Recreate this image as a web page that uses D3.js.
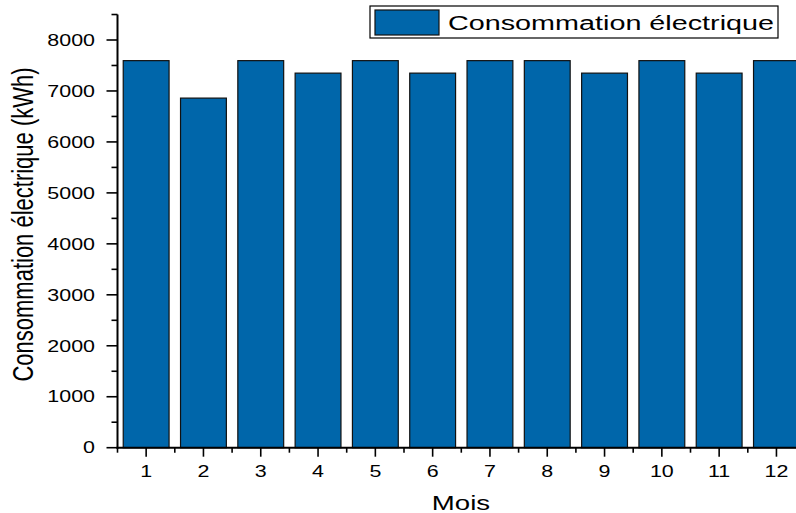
<!DOCTYPE html>
<html>
<head>
<meta charset="utf-8">
<script src="https://cdn.jsdelivr.net/npm/d3@7"></script>
<style>
  html, body { margin: 0; padding: 0; background: #fff; }
  svg { display: block; }
  text { font-family: "Liberation Sans", Arial, sans-serif; fill: #000; }
</style>
</head>
<body>
<svg id="chart" width="796" height="513"></svg>
<script>
// ---- data ----
const months = [1, 2, 3, 4, 5, 6, 7, 8, 9, 10, 11, 12];
const consumption = [7595, 6860, 7595, 7350, 7595, 7350, 7595, 7595, 7350, 7595, 7350, 7595];
const yTicks = [0, 1000, 2000, 3000, 4000, 5000, 6000, 7000, 8000];
const yMinorTicks = [500, 1500, 2500, 3500, 4500, 5500, 6500, 7500, 8500];
const xMinorTicks = [0.5, 1.5, 2.5, 3.5, 4.5, 5.5, 6.5, 7.5, 8.5, 9.5, 10.5, 11.5];
const seriesName = "Consommation électrique";
const xTitle = "Mois";
const yTitle = "Consommation électrique (kWh)";

// ---- layout ----
const svg = d3.select("#chart");
const axisX = 117.5, axisY = 447.7;
const x = d3.scaleLinear().domain([0.5, 12.5]).range([axisX, axisX + 12 * 57.3]);
const y = d3.scaleLinear().domain([0, 8000]).range([axisY, 40]);
const barColor = "#0066aa";
const sx = 1.34; // horizontal text stretch of the reference

// bars
svg.append("g").selectAll("rect").data(months).join("rect")
  .attr("x", (d) => x(d - 0.4))
  .attr("width", (d) => x(d + 0.4) - x(d - 0.4))
  .attr("y", (d, i) => y(consumption[i]))
  .attr("height", (d, i) => axisY - y(consumption[i]))
  .attr("fill", barColor)
  .attr("stroke", "#111")
  .attr("stroke-width", 1.2);

// y axis
const gy = svg.append("g").attr("transform", `translate(${axisX},0)`);
gy.append("line").attr("x1", 0).attr("x2", 0).attr("y1", y(8500)).attr("y2", axisY + 1)
  .attr("stroke", "#000").attr("stroke-width", 2);
gy.selectAll("line.maj").data(yTicks).join("line").attr("class", "maj")
  .attr("x1", -11).attr("x2", 0).attr("y1", (d) => y(d)).attr("y2", (d) => y(d))
  .attr("stroke", "#000").attr("stroke-width", 1.6);
gy.selectAll("line.min").data(yMinorTicks).join("line").attr("class", "min")
  .attr("x1", -6).attr("x2", 0).attr("y1", (d) => y(d)).attr("y2", (d) => y(d))
  .attr("stroke", "#000").attr("stroke-width", 1.6);
svg.append("g").selectAll("text").data(yTicks).join("text")
  .attr("transform", (d) => `translate(95,${y(d)}) scale(${sx},1)`)
  .attr("dy", "0.36em")
  .attr("text-anchor", "end")
  .style("font-size", "16px")
  .text((d) => d);

// x axis
const gx = svg.append("g").attr("transform", `translate(0,${axisY})`);
gx.append("line").attr("x1", axisX - 1).attr("x2", 796).attr("y1", 0).attr("y2", 0)
  .attr("stroke", "#000").attr("stroke-width", 2);
gx.selectAll("line.maj").data(months).join("line").attr("class", "maj")
  .attr("x1", (d) => x(d)).attr("x2", (d) => x(d)).attr("y1", 0).attr("y2", 9)
  .attr("stroke", "#000").attr("stroke-width", 1.6);
gx.selectAll("line.min").data(xMinorTicks).join("line").attr("class", "min")
  .attr("x1", (d) => x(d)).attr("x2", (d) => x(d)).attr("y1", 0).attr("y2", 5)
  .attr("stroke", "#000").attr("stroke-width", 1.6);
svg.append("g").selectAll("text").data(months).join("text")
  .attr("transform", (d) => `translate(${x(d)},476.5) scale(${sx},1)`)
  .attr("text-anchor", "middle")
  .style("font-size", "16px")
  .text((d) => d);

// axis titles
svg.append("text")
  .attr("transform", `translate(461,509.5) scale(1.38,1)`)
  .attr("text-anchor", "middle")
  .style("font-size", "20px")
  .text(xTitle);
svg.append("text")
  .attr("transform", `translate(33,224.5) scale(1.35,1) rotate(-90)`)
  .attr("text-anchor", "middle")
  .style("font-size", "22px")
  .text(yTitle);

// legend
const lg = svg.append("g");
lg.append("rect").attr("x", 370).attr("y", 6).attr("width", 408).attr("height", 32)
  .attr("fill", "#fff").attr("stroke", "#000").attr("stroke-width", 1.2);
lg.append("rect").attr("x", 375).attr("y", 10).attr("width", 64).attr("height", 25)
  .attr("fill", barColor).attr("stroke", "#111").attr("stroke-width", 1.2);
lg.append("text")
  .attr("transform", `translate(448,30) scale(1.37,1)`)
  .style("font-size", "21px")
  .text(seriesName);
</script>
</body>
</html>
